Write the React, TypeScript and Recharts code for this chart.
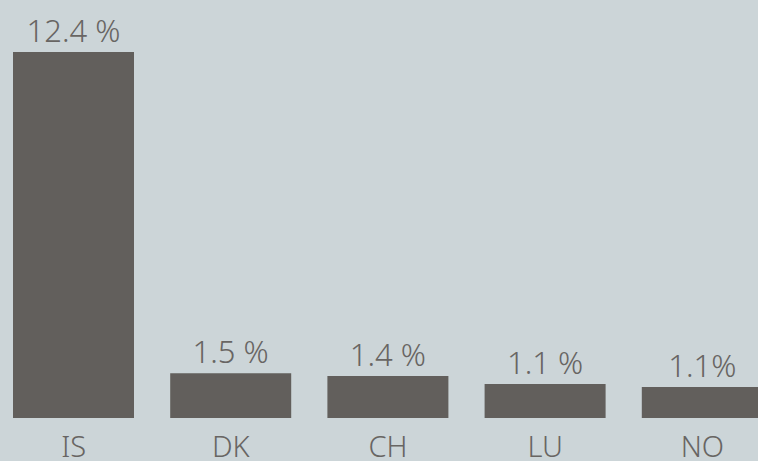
import React from "react";
import { BarChart, Bar, XAxis, YAxis, LabelList } from "recharts";

const countries = ["IS", "DK", "CH", "LU", "NO"];
const values = [12.4, 1.52, 1.42, 1.15, 1.05];
const valueLabels = ["12.4 %", "1.5 %", "1.4 %", "1.1 %", "1.1%"];

const data = countries.map((c, i) => ({ country: c, value: values[i], label: valueLabels[i] }));

const BG = "#ccd5d8";
const BAR = "#625f5c";
const TEXT = "#686563";
const FONT = "'Noto Sans', sans-serif";

export default function App() {
  return (
    <div
      style={{
        position: "absolute",
        left: 0,
        top: 0,
        width: 758,
        height: 461,
        overflow: "hidden",
        background: BG,
      }}
    >
      <div style={{ marginLeft: -5 }}>
        <BarChart
          width={786}
          height={461}
          data={data}
          margin={{ top: 52, right: 0, bottom: 0, left: 0 }}
          barSize={121}
        >
          <XAxis
            dataKey="country"
            axisLine={false}
            tickLine={false}
            tickSize={0}
            tickMargin={18}
            height={43}
            interval={0}
            tick={{ fill: TEXT, fontSize: 29, fontFamily: FONT, fontWeight: 300 }}
          />
          <YAxis hide domain={[0, 12.4]} />
          <Bar dataKey="value" fill={BAR} isAnimationActive={false}>
            <LabelList
              dataKey="label"
              position="top"
              offset={10}
              fill={TEXT}
              fontSize={31}
              fontFamily={FONT}
              fontWeight={300}
            />
          </Bar>
        </BarChart>
      </div>
    </div>
  );
}
